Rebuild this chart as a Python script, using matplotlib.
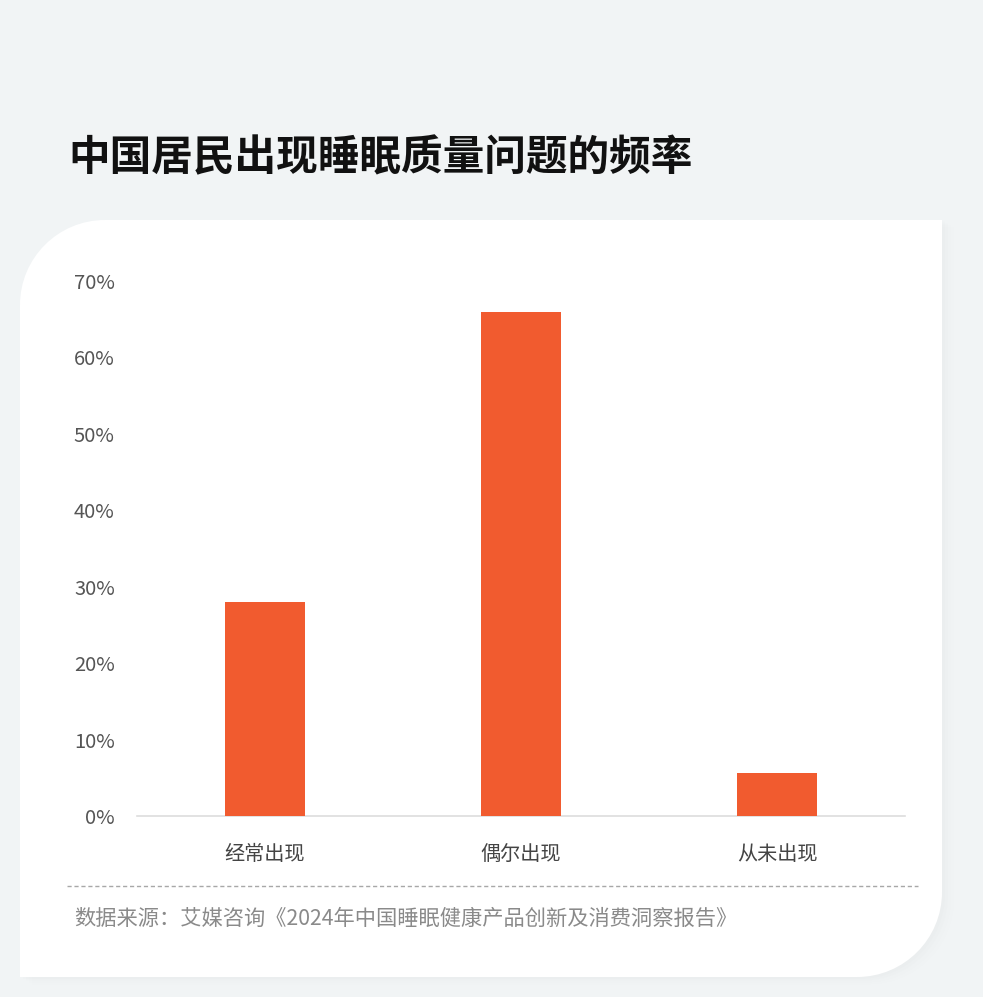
import matplotlib
matplotlib.use("Agg")
import matplotlib.pyplot as plt
from matplotlib.path import Path
from matplotlib.patches import PathPatch
from matplotlib.ticker import FuncFormatter

plt.rcParams['font.family'] = ['Noto Sans CJK SC', 'DejaVu Sans']

title = "中国居民出现睡眠质量问题的频率"
categories = ["经常出现", "偶尔出现", "从未出现"]
values = [28, 66, 5.6]
yticks = [0, 10, 20, 30, 40, 50, 60, 70]
source = "数据来源：艾媒咨询《2024年中国睡眠健康产品创新及消费洞察报告》"

W, H = 983, 997
fig = plt.figure(figsize=(W / 100, H / 100), dpi=100)
fig.patch.set_facecolor("#f1f4f5")

# background overlay in pixel coordinates
bg = fig.add_axes([0, 0, 1, 1])
bg.set_xlim(0, W)
bg.set_ylim(H, 0)
bg.axis("off")

# card with big rounded top-left and bottom-right corners
x0, x1, y0, y1 = 20, 942, 220, 977
R = 85
k = 0.5523
verts = [
    (x0 + R, y0),
    (x1, y0),
    (x1, y1 - R),
    (x1, y1 - R + k * R), (x1 - R + k * R, y1), (x1 - R, y1),
    (x0, y1),
    (x0, y0 + R),
    (x0, y0 + R - k * R), (x0 + R - k * R, y0), (x0 + R, y0),
    (x0 + R, y0),
]
codes = [Path.MOVETO, Path.LINETO,
         Path.LINETO,
         Path.CURVE4, Path.CURVE4, Path.CURVE4,
         Path.LINETO, Path.LINETO,
         Path.CURVE4, Path.CURVE4, Path.CURVE4,
         Path.CLOSEPOLY]
# soft shadow
for i, a in enumerate([0.03, 0.022, 0.016, 0.01]):
    off = 3 + i * 3
    sv = [(vx + off, vy + off * 0.6) for vx, vy in verts]
    bg.add_patch(PathPatch(Path(sv, codes), facecolor="#b8c2c8", edgecolor="none", alpha=a))
bg.add_patch(PathPatch(Path(verts, codes), facecolor="white", edgecolor="none"))

# title
bg.text(68, 158, title, fontsize=30, fontweight="bold", color="#111111",
        ha="left", va="center")

# dashed separator
bg.plot([67, 918], [886, 886], color="#a8a8a8", linewidth=1, linestyle=(0, (3, 2)))

# source
bg.text(74, 919, source, fontsize=15.3, color="#8a8a8a", ha="left", va="center")

# chart
ax = fig.add_axes([137 / W, 1 - 816 / H, 768 / W, 535 / H])
ax.set_facecolor("none")
x = list(range(len(categories)))
ax.bar(x, values, width=0.312, color="#f15b2f", zorder=3)
ax.set_xlim(-0.5, len(categories) - 0.5)
ax.set_ylim(0, 70)
ax.set_yticks(yticks)
ax.yaxis.set_major_formatter(FuncFormatter(lambda v, p: f"{int(v)}%"))
ax.set_xticks(x)
ax.set_xticklabels(categories)
for s in ["top", "right", "left"]:
    ax.spines[s].set_visible(False)
ax.spines["bottom"].set_color("#dddddd")
ax.spines["bottom"].set_linewidth(1.2)
ax.tick_params(axis="y", length=0, pad=16, labelsize=14.5, labelcolor="#555555")
ax.tick_params(axis="x", length=0, pad=20, labelsize=14.5, labelcolor="#444444")

fig.savefig("out.png", dpi=100, facecolor=fig.get_facecolor())
